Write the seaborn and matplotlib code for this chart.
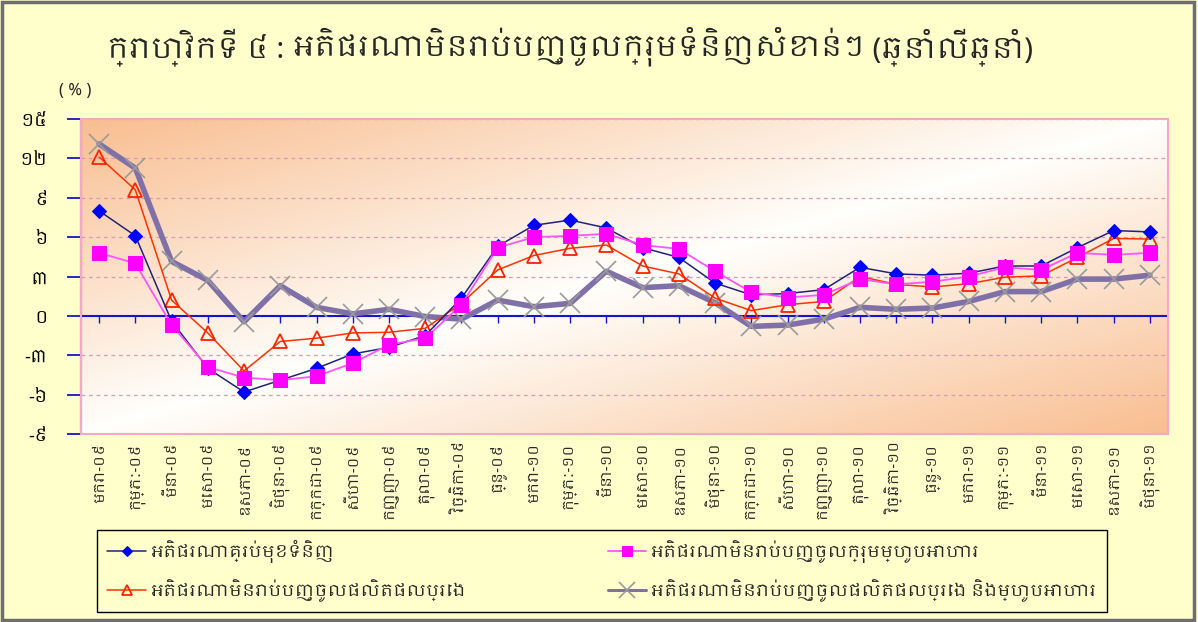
import numpy as np
import pandas as pd
import matplotlib
matplotlib.use("Agg")
import matplotlib.pyplot as plt
from matplotlib import font_manager
from matplotlib.patches import Rectangle
import seaborn as sns

# ---------------- data ----------------
months = ["មករា", "កុម្ភៈ", "មីនា", "មេសា", "ឧសភា", "មិថុនា",
          "កក្កដា", "សីហា", "កញ្ញា", "តុលា", "វិច្ឆិកា", "ធ្នូ"]
years = ["០៩", "១០", "១១"]
categories = [f"{m}-{y}" for y in years for m in months][:30]

headline = [8.0, 6.1, -0.4, -4.0, -5.8, -4.9, -4.0, -2.9, -2.4, -1.5, 1.35, 5.3,
            6.9, 7.3, 6.7, 5.2, 4.45, 2.5, 1.6, 1.7, 2.0, 3.7, 3.2, 3.1,
            3.25, 3.8, 3.8, 5.2, 6.5, 6.4]
excl_food = [4.8, 4.0, -0.7, -3.9, -4.7, -4.9, -4.6, -3.6, -2.2, -1.7, 0.85, 5.2,
             6.0, 6.1, 6.25, 5.4, 5.1, 3.4, 1.8, 1.4, 1.6, 2.8, 2.4, 2.6,
             3.0, 3.7, 3.5, 4.8, 4.65, 4.8]
excl_petrol = [12.1, 9.6, 1.2, -1.3, -4.2, -1.95, -1.7, -1.3, -1.25, -0.95, 0.95, 3.5,
               4.6, 5.15, 5.4, 3.8, 3.2, 1.35, 0.4, 0.85, 1.1, 3.0, 2.4, 2.2,
               2.45, 2.95, 3.05, 4.45, 5.9, 5.85]
excl_both = [13.1, 11.25, 4.15, 2.7, -0.45, 2.3, 0.65, 0.15, 0.5, -0.05, -0.25, 1.2,
             0.7, 0.95, 3.4, 2.15, 2.3, 1.0, -0.8, -0.7, -0.25, 0.65, 0.5, 0.6,
             1.1, 1.85, 1.85, 2.8, 2.8, 3.1]

series_names = [
    "អតិផរណាគ្រប់មុខទំនិញ",
    "អតិផរណាមិនរាប់បញ្ចូលក្រុមម្ហូបអាហារ",
    "អតិផរណាមិនរាប់បញ្ចូលផលិតផលប្រេង",
    "អតិផរណាមិនរាប់បញ្ចូលផលិតផលប្រេង និងម្ហូបអាហារ",
]
y_ticks = [-9, -6, -3, 0, 3, 6, 9, 12, 15]
y_tick_labels = ["-៩", "-៦", "-៣", "០", "៣", "៦", "៩", "១២", "១៥"]
title_regular = "ក្រាហ្វិកទី ៤ : "
title_bold = "អតិផរណាមិនរាប់បញ្ចូលក្រុមទំនិញសំខាន់ៗ"
title_tail = " (ឆ្នាំលើឆ្នាំ)"
unit_label = "( % )"

# ---------------- fonts ----------------
sns.set_theme(style="white")
khmer = [f.name for f in font_manager.fontManager.ttflist if "khmer" in f.name.lower()]
families = ([khmer[0]] if khmer else []) + ["DejaVu Sans"]
plt.rcParams["font.family"] = families

BG = "#FFFFCC"
fig = plt.figure(figsize=(11.98, 6.22), dpi=100, facecolor=BG)
ax = fig.add_axes([81 / 1198, 1 - 434 / 622, (1168 - 81) / 1198, (434 - 119) / 622])

x = np.arange(len(categories))
df = pd.DataFrame({"x": x, "headline": headline, "excl_food": excl_food,
                   "excl_petrol": excl_petrol, "excl_both": excl_both})

# gradient background (orange corners, white diagonal)
ax.set_xlim(-0.5, len(categories) - 0.5)
ax.set_ylim(-9, 15)
uu, vv = np.meshgrid(np.linspace(0, 1, 300), np.linspace(0, 1, 120))
f = np.abs(uu + vv - 1.0) ** 1.0
orange = np.array([249, 190, 145]) / 255.0
white = np.array([255, 255, 252]) / 255.0
img = white[None, None, :] * (1 - f[..., None]) + orange[None, None, :] * f[..., None]
ax.imshow(img, extent=(-0.5, len(categories) - 0.5, -9, 15), aspect="auto",
          origin="upper", zorder=0)

# lines
sns.lineplot(data=df, x="x", y="excl_both", ax=ax, color="#8070A8", linewidth=4,
             marker="x", markersize=15, markeredgecolor="#9A9A9A", markeredgewidth=1.2,
             label=series_names[3], zorder=3)
sns.lineplot(data=df, x="x", y="excl_petrol", ax=ax, color="#FF3300", linewidth=1.1,
             marker="^", markersize=10, markerfacecolor="none", markeredgecolor="#FF2200",
             markeredgewidth=1.3, label=series_names[2], zorder=4)
sns.lineplot(data=df, x="x", y="headline", ax=ax, color="#22227A", linewidth=1.1,
             marker="D", markersize=7, markerfacecolor="#0000FF", markeredgecolor="#0000FF",
             label=series_names[0], zorder=5)
sns.lineplot(data=df, x="x", y="excl_food", ax=ax, color="#FF55FF", linewidth=1.3,
             marker="s", markersize=10, markerfacecolor="#FF00FF", markeredgecolor="#FF00FF",
             label=series_names[1], zorder=6)

# axes styling
ax.set_xlabel("")
ax.set_ylabel("")
ax.set_yticks(y_ticks)
ax.set_yticklabels(y_tick_labels, fontsize=13, fontweight="bold")
ax.yaxis.grid(True, linestyle=(0, (3, 3)), color="#D99AB4", linewidth=0.9, zorder=1)
ax.xaxis.grid(False)

for s in ["top", "right"]:
    ax.spines[s].set_visible(False)
ax.spines["left"].set_color("#1515CC")
ax.spines["left"].set_linewidth(1.5)
ax.spines["bottom"].set_position(("data", 0))
ax.spines["bottom"].set_color("#1515CC")
ax.spines["bottom"].set_linewidth(1.5)
ax.spines["bottom"].set_zorder(2.9)
ax.add_patch(Rectangle((0, 0), 1, 1, transform=ax.transAxes, fill=False,
                       edgecolor="#F5A8C6", linewidth=1.5, zorder=7, clip_on=False))

ax.set_xticks(x)
ax.tick_params(axis="x", which="both", bottom=True, labelbottom=False, direction="out",
               length=5, width=1, color="#1515CC")
ax.tick_params(axis="y", which="both", left=True, direction="out", length=10, width=1.3,
               color="#1515CC", pad=14, labelcolor="black")

secax = ax.secondary_xaxis("bottom")
secax.set_xticks(x)
secax.set_xticklabels(categories, rotation=90, fontsize=10.5)
secax.tick_params(length=0, pad=6)
secax.spines["bottom"].set_visible(False)

# legend
handles, labels = ax.get_legend_handles_labels()
hmap = dict(zip(labels, handles))
ax.get_legend().remove()
leg_order = [series_names[0], series_names[2], series_names[1], series_names[3]]
leg = fig.legend([hmap[n] for n in leg_order], leg_order, ncol=2, loc="lower left",
                 bbox_to_anchor=(97 / 1198, 1 - 612 / 622, (1107 - 97) / 1198, 80 / 622),
                 mode="expand", frameon=True, fancybox=False, edgecolor="black",
                 facecolor=BG, framealpha=1, fontsize=12.5, handlelength=2.2,
                 handletextpad=0.3, markerscale=0.75,
                 borderaxespad=0, labelspacing=0.9, borderpad=0.6)
leg.get_frame().set_linewidth(1.0)
for line in leg.get_lines():
    if line.get_linewidth() > 3:
        line.set_linewidth(2.2)

# title
fig.canvas.draw()
renderer = fig.canvas.get_renderer()
pieces = [(title_regular, "normal"), (title_bold, "bold"), (title_tail, "normal")]
texts = []
for s, w in pieces:
    texts.append(fig.text(0, 0.925, s, fontsize=21, fontweight=w, va="center", ha="left"))
widths = [t.get_window_extent(renderer).width for t in texts]
total = sum(widths)
start = 570 - total / 2
for t, w in zip(texts, widths):
    t.set_x(start / 1198)
    start += w

fig.text(75 / 1198, 1 - 90 / 622, unit_label, fontsize=12, fontweight="bold",
         ha="center", va="center")

fig.add_artist(Rectangle((0.002, 0.003), 0.995, 0.993, transform=fig.transFigure,
                         fill=False, edgecolor="#6E6E6E", linewidth=2.5))

fig.savefig("out.png", dpi=100, facecolor=BG)
